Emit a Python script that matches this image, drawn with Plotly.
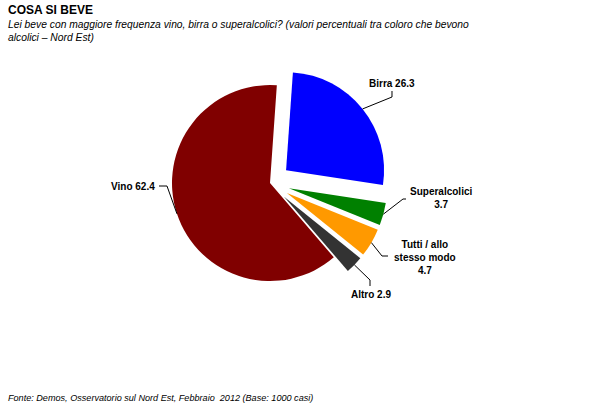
import math
import plotly.graph_objects as go

W, H = 600, 409

# data
labels = ['Birra', 'Superalcolici', 'Tutti / allo stesso modo', 'Altro', 'Vino']
label_lines = ['Birra', 'Superalcolici<br>', 'Tutti / allo<br>stesso modo<br>', 'Altro', 'Vino']
values = [26.3, 3.7, 4.7, 2.9, 62.4]
colors = ['#0000ff', '#008000', '#ff9900', '#333333', '#800000']
pulls = [0.21, 0.2, 0.2, 0.2, 0.0]

title = '<b>COSA SI BEVE</b>'
subtitle = ['<i>Lei beve con maggiore frequenza vino, birra o superalcolici? (valori percentuali tra coloro che bevono</i>',
            '<i>alcolici \u2013 Nord Est)</i>']
source = '<i>Fonte: Demos, Osservatorio sul Nord Est, Febbraio  2012 (Base: 1000 casi)</i>'

# pie geometry in pixels
cx, cy, r = 270, 183, 98
rotation = 4
half = r * (1 + max(pulls))


def px(x, y):
    return x / W, 1 - y / H


# where each label sits and how the leader bends (pixels)
label_pos = [(392, 83, 'center'), (441, 198, 'center'), (425, 257, 'center'), (371, 294, 'center'), (157, 186, 'right')]
elbows = [[(392, 97), (392, 91)], [(403, 199), (406, 199)], [(382, 256), (388, 256)],
          [(370, 280), (370, 286)], [(167, 186), (159, 186)]]

fig = go.Figure(go.Pie(
    labels=labels, values=values, sort=False, direction='clockwise', rotation=rotation,
    pull=pulls, marker=dict(colors=colors, line=dict(width=0)), textinfo='none',
    hoverinfo='label+value', showlegend=False,
    domain=dict(x=[(cx - half) / W, (cx + half) / W], y=[1 - (cy + half) / H, 1 - (cy - half) / H]),
))

annotations = []
shapes = []
total = sum(values)
angle = rotation
for i, v in enumerate(values):
    span = 360 * v / total
    mid = math.radians(angle + span / 2)
    angle += span
    rr = r * (1 + pulls[i])
    ex, ey = cx + rr * math.sin(mid), cy - rr * math.cos(mid)
    pts = [(ex, ey)] + elbows[i]
    path = 'M ' + ' L '.join('%f,%f' % px(a, b) for a, b in pts)
    shapes.append(dict(type='path', path=path, xref='paper', yref='paper',
                       line=dict(color='black', width=1)))
    lx, ly, anchor = label_pos[i]
    txt = label_lines[i] + ('' if label_lines[i].endswith('<br>') else ' ') + str(v)
    x, y = px(lx, ly)
    annotations.append(dict(text='<b>' + txt + '</b>', x=x, y=y, xref='paper', yref='paper',
                            xanchor=anchor, yanchor='middle', showarrow=False, align='center',
                            font=dict(size=10, color='black')))


def text_line(text, x, y, size):
    xx, yy = px(x, y)
    return dict(text=text, x=xx, y=yy, xref='paper', yref='paper', xanchor='left', yanchor='middle',
                showarrow=False, align='left', borderpad=0, font=dict(size=size, color='black'))


annotations.append(text_line(title, 7, 10, 12))
annotations.append(text_line(subtitle[0], 7, 24, 10.3))
annotations.append(text_line(subtitle[1], 7, 37, 10.3))
annotations.append(text_line(source, 7, 398, 9.1))

fig.update_layout(
    width=W, height=H, margin=dict(l=0, r=0, t=0, b=0),
    paper_bgcolor='white', plot_bgcolor='white',
    font=dict(family='Arial, Liberation Sans, sans-serif', color='black'),
    annotations=annotations, shapes=shapes,
)

fig.write_html("out.html", config={'displayModeBar': False},
               post_script="document.body.style.margin='0';")
